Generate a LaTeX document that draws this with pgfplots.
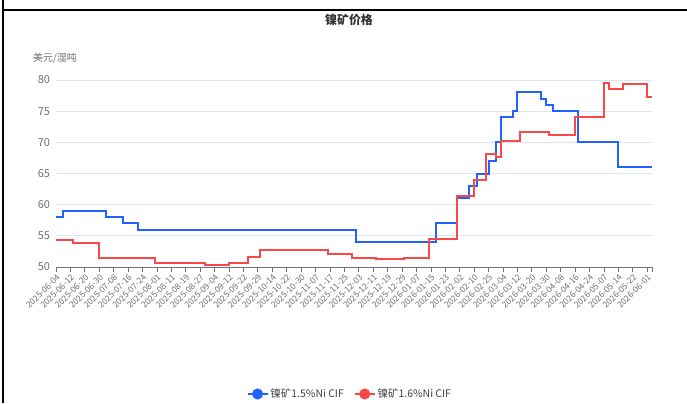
\documentclass[border=0pt]{standalone}
\usepackage{fontspec}
\setmainfont{Noto Sans CJK SC}
\usepackage{pgfplots}
\pgfplotsset{compat=1.18}
\definecolor{ser1}{RGB}{34,98,255}
\definecolor{ser2}{RGB}{250,72,72}
\definecolor{axisgray}{RGB}{110,112,121}
\definecolor{gridc}{RGB}{224,230,241}
\begin{document}
\begin{tikzpicture}[x=1bp,y=1bp]
\path[use as bounding box] (0,0) rectangle (687,403);
\draw[black, line width=1.3bp] (3,403) -- (3,0);
\draw[black, line width=1.3bp] (3,393) -- (687,393);
\node[font=\fontsize{12}{14}\selectfont\bfseries, text=black!80] at (349,383) {镍矿价格};
\node[font=\fontsize{10}{12}\selectfont, text=axisgray] at (55,345) {美元/湿吨};
\begin{axis}[
  at={(56bp,136bp)}, anchor=south west, scale only axis,
  width=596bp, height=187bp,
  xmin=0, xmax=248, ymin=50, ymax=80,
  ytick={50,55,...,80},
  axis x line=bottom, axis y line=left,
  axis line style={-},
  y axis line style={draw=none},
  x axis line style={draw=axisgray, line width=0.8bp},
  ymajorgrids, grid style={gridc, line width=0.8bp},
  ytick style={draw=none},
  xtick={0,6,...,246},
  extra x ticks={248}, extra x tick labels={},
  xtick align=outside, xtick pos=bottom,
  xtick style={draw=axisgray, line width=0.8bp},
  major tick length=5bp,
  xticklabels={2025-06-04,2025-06-12,2025-06-20,2025-06-30,2025-07-08,2025-07-16,2025-07-24,2025-08-01,2025-08-11,2025-08-19,2025-08-27,2025-09-04,2025-09-12,2025-09-22,2025-09-29,2025-10-14,2025-10-22,2025-10-30,2025-11-07,2025-11-17,2025-11-25,2025-12-03,2025-12-11,2025-12-19,2025-12-29,2026-01-07,2026-01-15,2026-01-23,2026-02-02,2026-02-10,2026-02-25,2026-03-04,2026-03-12,2026-03-20,2026-03-30,2026-04-08,2026-04-16,2026-04-24,2026-05-07,2026-05-14,2026-05-22,2026-06-01},
  xticklabel style={rotate=45, anchor=north east, font=\fontsize{8.5}{9.5}\selectfont, text=axisgray, inner sep=0bp, xshift=-1bp, yshift=-1bp},
  yticklabel style={font=\fontsize{11}{12}\selectfont, text=axisgray},
  /pgf/number format/assume math mode=true,
  clip=false,
  legend columns=2,
  legend style={at={(0.493,-0.679)}, anchor=center, draw=none, fill=none,
    font=\fontsize{10.5}{12}\selectfont, text=black!75,
    /tikz/every even column/.append style={column sep=8bp}},
  legend image code/.code={\draw[#1, line width=1.8bp] (0bp,0bp) -- (20bp,0bp); \fill[#1] (10bp,0bp) circle (4.5bp);},
]
\addplot[const plot, color=ser1, line width=2bp] coordinates {
(0,58) (3,59) (21,58) (28,57) (34,56) (125,54) (158,57) (167,61) (172,63) (175,65) (180,67) (183,70) (185,74) (190,75) (192,78) (202,77) (204,76) (207,75) (217,70) (234,66) (248,66)
};
\addlegendentry{镍矿1.5\%Ni CIF}
\addplot[const plot, color=ser2, line width=2bp] coordinates {
(0,54.3) (7,53.9) (18,51.5) (41,50.7) (62,50.4) (72,50.7) (80,51.6) (85,52.7) (91,52.8) (103,52.7) (113,52.1) (123,51.5) (133,51.3) (145,51.4) (155,54.5) (167,61.4) (174,63.9) (179,68.2) (183,67.7) (185,70.2) (193,71.7) (205,71.2) (216,74) (228,79.5) (230,78.5) (236,79.3) (246,77.3) (248,77.3)
};
\addlegendentry{镍矿1.6\%Ni CIF}
\end{axis}
\end{tikzpicture}
\end{document}
